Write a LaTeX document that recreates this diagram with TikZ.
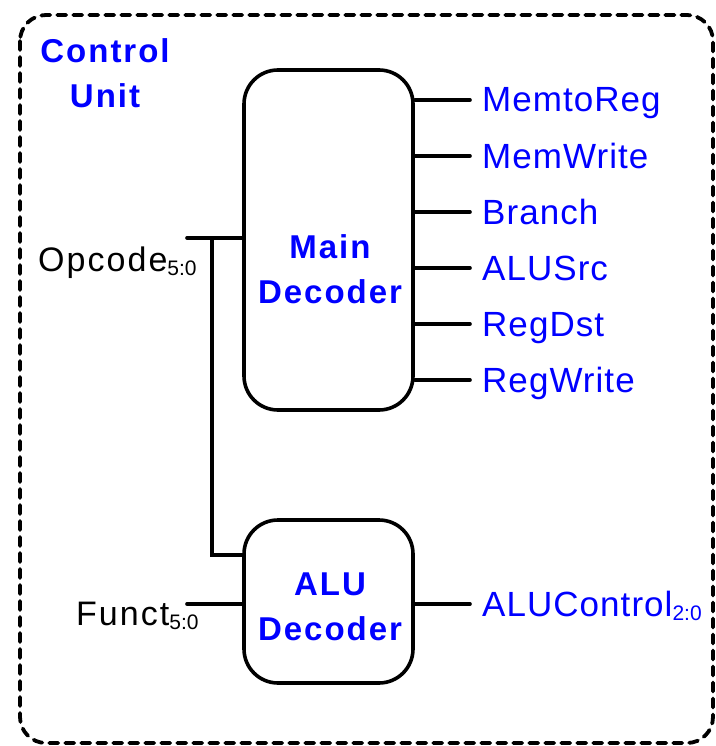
\documentclass[tikz,border=0pt]{standalone}
\usepackage{fontspec}
\setmainfont{Liberation Sans}
\definecolor{lblue}{RGB}{0,0,255}
\newcommand{\sub}[1]{{\fontsize{21}{21}\selectfont\addfontfeature{LetterSpace=0}\raisebox{-4pt}{#1}}}
\begin{document}
\begin{tikzpicture}[x=1pt,y=-1pt,
  wire/.style={line width=3.6pt,line cap=round},
  dec/.style={draw,line width=3.6pt,rounded corners=34pt,minimum width=169pt,inner sep=0pt},
  btext/.style={text=lblue,font=\fontsize{33}{45}\selectfont\bfseries\addfontfeature{LetterSpace=6},align=center,inner sep=0pt},
  otext/.style={text=lblue,font=\fontsize{35}{36}\selectfont\addfontfeature{LetterSpace=3},anchor=base west,inner sep=0pt},
  itext/.style={text=black,font=\fontsize{34}{36}\selectfont\addfontfeature{LetterSpace=6},anchor=base west,inner sep=0pt}]
\useasboundingbox (0,0) rectangle (715,746);
\draw[line width=3.8pt,dash pattern=on 9pt off 7pt,line cap=round,rounded corners=26pt] (20,15) rectangle (713,743);
\node[btext,anchor=base] (cu) at (105,108) {Control\\Unit};
\node[dec,minimum height=340pt] (main) at (328.5,240) {};
\node[dec,minimum height=163pt] (alu) at (328.5,601.5) {};
\node[btext,anchor=base] (mt) at (330,303) {Main\\Decoder};
\node[btext,anchor=base] (at) at (330,640) {ALU\\Decoder};
% outputs
\foreach \i/\y/\t in {1/100/MemtoReg,2/156/MemWrite,3/212/Branch,4/268/ALUSrc,5/324/RegDst,6/380/RegWrite}{
  \coordinate (o\i) at (470,\y);
  \node[otext] (l\i) at (482,\y+12) {\t};
  \draw[wire] (main.east |- o\i) -- (o\i);
}
\coordinate (oa) at (470,604);
\node[otext] (la) at (482,616) {ALUControl\sub{2:0}};
\draw[wire] (alu.east |- oa) -- (oa);
% inputs
\node[itext] (op) at (38,271) {Opcode\sub{5:0}};
\node[itext] (fu) at (76,625) {Funct\sub{5:0}};
\coordinate (opin) at (187,238);
\coordinate (j) at (212,238);
\coordinate (fin) at (187,604);
\draw[wire] (opin) -- (main.west |- opin);
\draw[wire,line cap=butt] (j) |- (alu.west |- 0,555);
\draw[wire] (fin) -- (alu.west |- fin);
\end{tikzpicture}
\end{document}
